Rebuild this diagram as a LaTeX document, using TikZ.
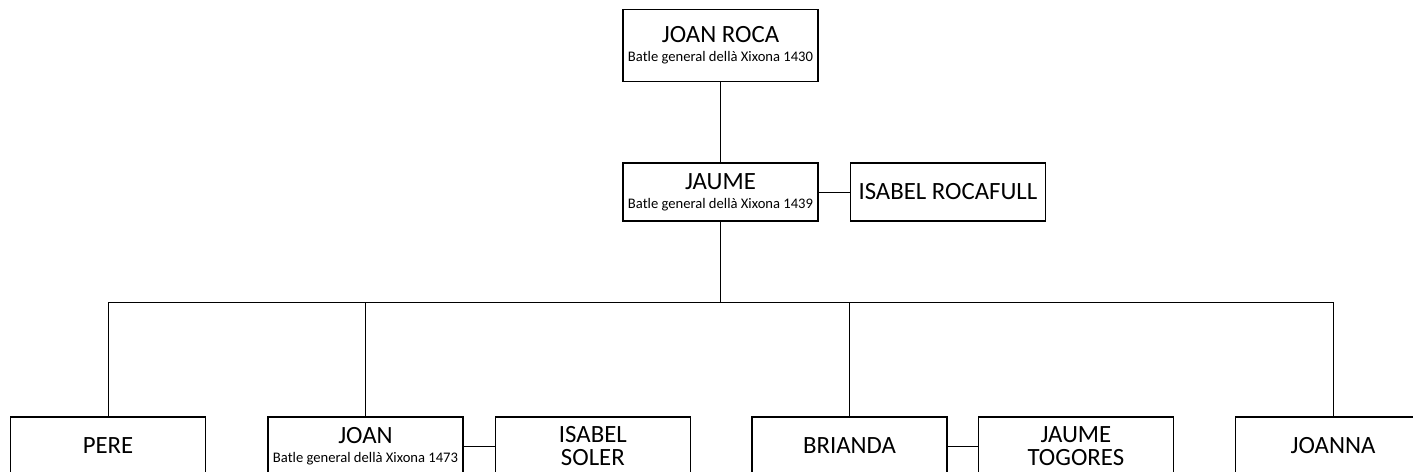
\documentclass[tikz,border=0pt]{standalone}
\usepackage{fontspec}
\setmainfont{Carlito}
\usepackage{tikz}
\usetikzlibrary{positioning}
\newcommand{\batle}[1]{{\fontsize{7.3}{8}\selectfont Batle general dellà Xixona #1}}

\begin{document}
\begin{tikzpicture}[
        x=0.5pt, y=-0.5pt,
        font=\fontsize{12.4}{11.5}\selectfont,
        person/.style={rectangle, draw, line width=0.7pt, fill=white, inner sep=1pt, align=center, minimum width=97.5pt, minimum height=29pt},
        link/.style={line width=0.5pt}
    ]
        \useasboundingbox (0,0) rectangle (1413,471);
        \clip (0,0) rectangle (1413,471);

        \node[person, minimum height=36pt] (roca) at (720.5,45.5) {JOAN ROCA\\[-2pt]\batle{1430}};
        \node[person] (jaume) at (720.5,192) {JAUME\\[-2pt]\batle{1439}};
        \node[person, right=15.5pt of jaume] (rocafull) {ISABEL ROCAFULL};

        \node[person] (pere) at (108,446) {PERE};
        \node[person] (joan) at (365.5,446) {JOAN\\[-2pt]\batle{1473}};
        \node[person, right=15.5pt of joan] (soler) {ISABEL\\SOLER};
        \node[person] (brianda) at (849.5,446) {BRIANDA};
        \node[person, right=15pt of brianda] (togores) {JAUME\\TOGORES};
        \node[person] (joanna) at (1333,446) {JOANNA};

        \coordinate (bus) at (720.5,302);

        \draw[link] (roca) -- (jaume);
        \draw[link] (jaume) -- (rocafull);
        \draw[link] (jaume) -- (bus);
        \draw[link] (pere.north |- bus) -- (joanna.north |- bus);
        \foreach \kid in {pere,joan,brianda,joanna}
            \draw[link] (\kid.north) -- (\kid.north |- bus);
        \draw[link] (joan) -- (soler);
        \draw[link] (brianda) -- (togores);
    \end{tikzpicture}
\end{document}
